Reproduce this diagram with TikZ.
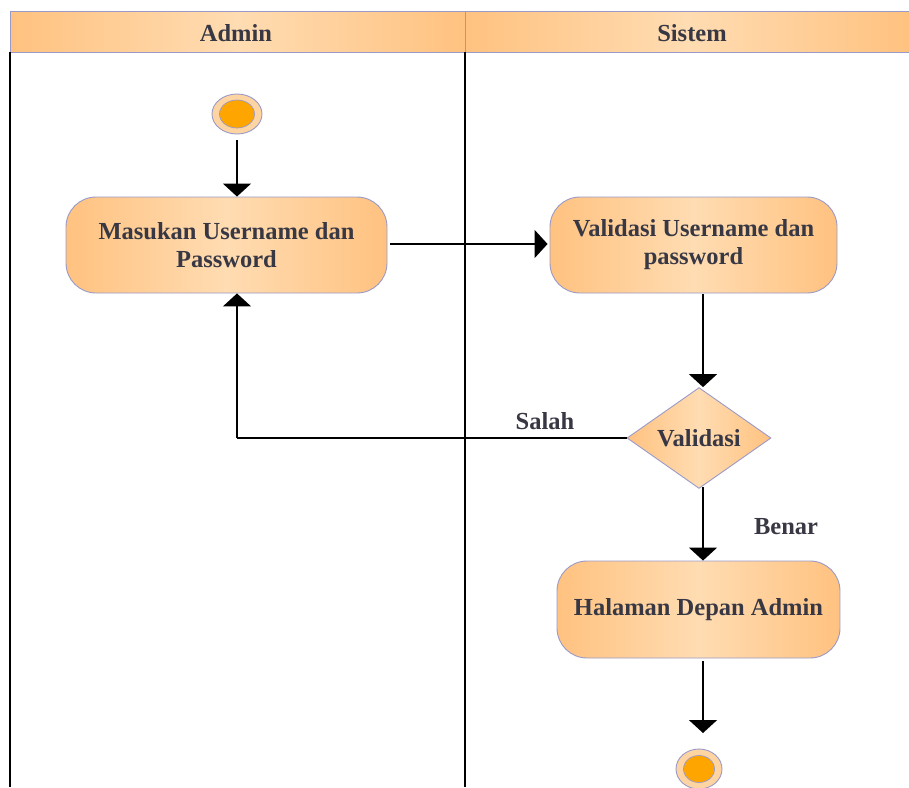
\documentclass[tikz,border=0pt]{standalone}
\usepackage{fontspec}
\setmainfont{Liberation Serif}
\usetikzlibrary{shapes.geometric,arrows.meta,calc}
\definecolor{orD}{HTML}{FFC280}
\definecolor{orL}{HTML}{FFDCB2}
\definecolor{edge}{HTML}{9A9AC8}
\definecolor{txt}{HTML}{383844}
\definecolor{dot}{HTML}{FFA500}
\tikzset{
  shade3/.style={left color=orD,right color=orD,middle color=orL},
  bigfont/.style={font=\fontsize{24.5}{28}\selectfont\bfseries,text=txt},
  actbox/.style={shade3,draw=edge,line width=0.9pt,rounded corners=30pt,align=center,
    bigfont,inner sep=0pt},
  decbox/.style={diamond,shade3,draw=edge,line width=0.9pt,bigfont,
    inner sep=0pt,minimum width=144pt,minimum height=97pt},
  lanehead/.style={shade3,draw=edge,line width=0.9pt},
  lbl/.style={bigfont},
  flow/.style={line width=1.8pt,-{Triangle[width=28pt,length=13pt]}},
  plain/.style={line width=1.8pt},
  ringout/.style={ellipse,fill=orL!70!orD,draw=edge,line width=0.9pt},
  ringin/.style={ellipse,fill=dot,draw=edge,line width=0.7pt},
}
\begin{document}
\begin{tikzpicture}[x=1pt,y=-1pt]
\useasboundingbox (0,0) rectangle (909,787);
% headers
\path[lanehead] (10,11) rectangle (465,52);
\path[lanehead] (465,11) rectangle (909,52);
\node[lbl] (hadmin) at (236,33) {Admin};
\node[lbl] (hsistem) at (692,33) {Sistem};
% lane lines
\draw[line width=1.2pt] (10,52) -- (10,787);
\draw[line width=1.2pt] (465,52) -- (465,787);
% start
\node[ringout,minimum width=50pt,minimum height=40pt] (start) at (237,114) {};
\node[ringin,minimum width=35pt,minimum height=28pt] (startin) at (237,114) {};
% actions
\node[actbox,minimum width=321pt,minimum height=96pt] (a1) at (226.5,245) {Masukan Username dan\\Password};
\node[actbox,minimum width=287pt,minimum height=96pt] (a2) at (693.5,245) {Validasi Username dan\\password};
\node[decbox] (d) at (699,438) {Validasi};
\node[actbox,minimum width=283pt,minimum height=97pt] (a3) at (698.5,609.5) {Halaman Depan Admin};
% end
\node[ringout,minimum width=46pt,minimum height=40pt] (end) at (699,769) {};
\node[ringin,minimum width=31pt,minimum height=27pt] (endin) at (699,769) {};
% coordinates
\coordinate (c1) at (237,140);
\coordinate (c2) at (390,244);
\coordinate (c3) at (703,294);
\coordinate (c4) at (703,487);
\coordinate (c5) at (703,661);
\coordinate (c6) at (703,733);
\coordinate (cs) at (237,438);
% connectors
\draw[flow] (c1) -- (c1 |- a1.north);
\draw[flow] (c2) -- ([xshift=-2pt]a2.west |- c2);
\draw[flow] (c3) -- (c3 |- d.north);
\draw[plain] (d.west) -- (cs);
\draw[flow] (cs) -- (cs |- a1.south);
\draw[flow] (c4) -- (c4 |- a3.north);
\draw[flow] (c5) -- (c6);
% labels
\node[lbl] (salah) at (545,421) {Salah};
\node[lbl] (benar) at (786,527) {Benar};
\end{tikzpicture}
\end{document}
